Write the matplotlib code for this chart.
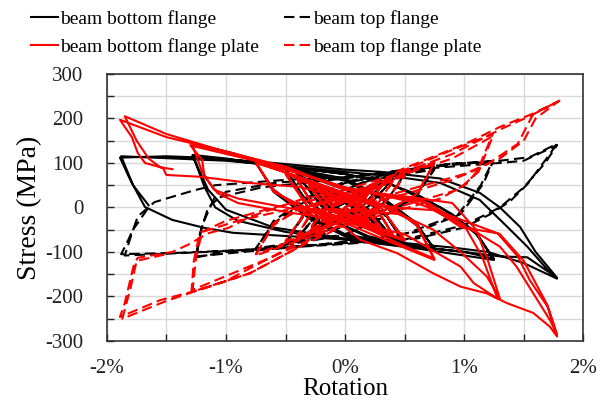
import matplotlib
matplotlib.use("Agg")
import matplotlib.pyplot as plt
from matplotlib.ticker import MultipleLocator, FuncFormatter

# rotation (%) , stress (MPa) points, in the order traced

# beam bottom flange (black solid)
bs_pts = [
    (0, 0), (0.2, -40), (0.1, -5), (-0.2, 40), (-0.1, 5), (0.2, -42), (0.1, -5), (-0.2, 42), (-0.1, 3),
    (0.3, -55), (0.15, -5), (-0.3, 58), (-0.15, 5), (0.3, -58), (0.15, -3), (-0.3, 60), (-0.15, 2),
    (0.4, -68), (0.2, -5), (-0.4, 72), (-0.2, 5), (0.4, -70), (0.2, -5), (-0.4, 74), (-0.2, 3),
    (0.5, -80), (0.35, -20), (0.1, 30), (-0.2, 65), (-0.5, 85), (-0.35, 25), (-0.1, -30), (0.2, -65),
    (0.5, -82), (0.35, -20), (0.1, 30), (-0.5, 88), (-0.35, 20), (-0.1, -30),
    (0.2, -68), (0.75, -92), (0.6, -40), (0.3, 20), (0, 60), (-0.4, 80), (-0.75, 100), (-0.6, 40),
    (-0.3, -20), (0, -60), (0.4, -80), (0.75, -95), (0.6, -35), (0.3, 25), (0, 65), (-0.75, 102),
    (-0.6, 35), (-0.3, -25), (0, -65),
    (0.5, -85), (1.0, -100), (1.25, -115), (1.1, -60), (0.9, -15), (0.6, 30), (0.3, 60), (0, 75),
    (-0.6, 95), (-1.0, 110), (-1.28, 118), (-1.18, 46), (-1.09, 0), (-0.9, -30), (-0.5, -55), (0, -72),
    (0.6, -92), (1.25, -118), (1.1, -55), (0.8, 0), (0.4, 50), (0, 75), (-1.28, 116), (-1.15, 40),
    (-1.0, -5), (-0.6, -45), (0, -70),
    (0.6, -88), (1.0, -100), (1.3, -110), (1.53, -112), (1.78, -158), (1.6, -100), (1.47, -44),
    (1.3, 0), (1.13, 33), (0.8, 65), (0.3, 80), (0, 85), (-0.6, 100), (-1.2, 112), (-1.5, 115),
    (-1.89, 112), (-1.8, 60), (-1.68, 1), (-1.45, -28), (-1.18, -46), (-0.94, -57), (-0.38, -66),
    (0, -72), (0.3, -75), (0.9, -90), (1.2, -100), (1.5, -125), (1.78, -160), (1.7, -140),
    (1.53, -88), (1.36, -43), (1.13, 17), (0.8, 55), (0.4, 70), (0, 80), (-1.0, 105), (-1.88, 115),
    (-1.78, 50), (-1.65, 5),
]

# beam top flange (black dashed)
bd_pts = [
    (0, 0), (0.2, 35), (0.1, 0), (-0.2, -38), (-0.1, -3), (0.2, 38), (0.1, 2), (-0.2, -40), (-0.1, -2),
    (0.3, 50), (0.15, 3), (-0.3, -55), (-0.15, -3), (0.3, 52), (0.15, 0), (-0.3, -57), (-0.15, 0),
    (0.4, 62), (0.2, 5), (-0.4, -68), (-0.2, -5), (0.4, 65), (0.2, 3), (-0.4, -70), (-0.2, -3),
    (0.5, 72), (0.35, 15), (0.1, -30), (-0.2, -62), (-0.5, -80), (-0.35, -20), (-0.1, 30), (0.2, 60),
    (0.5, 75), (0.35, 15), (0.1, -30), (-0.5, -82), (-0.35, -15), (-0.1, 30),
    (0.2, 62), (0.75, 85), (0.6, 30), (0.3, -25), (0, -60), (-0.4, -78), (-0.75, -92), (-0.6, -35),
    (-0.3, 20), (0, 55), (0.4, 75), (0.75, 88), (0.6, 25), (0.3, -25), (0, -62), (-0.75, -95),
    (-0.6, -30), (-0.3, 25), (0, 58),
    (0.5, 80), (0.88, 98), (1.24, 102), (1.16, 53), (1.08, 24), (0.97, -15), (0.6, -55), (0, -78),
    (-0.6, -92), (-1.0, -100), (-1.25, -112), (-1.22, -60), (-1.15, 0), (-1.0, 35), (-0.6, 55),
    (0, 68), (0.6, 88), (1.24, 104), (1.14, 50), (0.95, -15), (0.5, -60), (0, -78), (-1.25, -110),
    (-1.2, -40), (-1.1, 20), (-0.7, 45), (0, 65),
    (0.88, 98), (1.3, 105), (1.55, 113), (1.78, 143), (1.7, 113), (1.53, 52), (1.39, 15),
    (1.22, -15), (1.0, -45), (0.6, -70), (0, -82), (-0.8, -95), (-1.4, -102), (-1.88, -105),
    (-1.82, -73), (-1.77, -43), (-1.74, -20), (-1.6, 12), (-1.45, 24), (-1.26, 39), (-1.09, 50),
    (-0.5, 62), (0, 68), (0.8, 90), (1.3, 100), (1.5, 105), (1.78, 140), (1.68, 100), (1.5, 45),
    (1.3, 0), (1.0, -40), (0.5, -72), (0, -80), (-1.0, -98), (-1.85, -108), (-1.78, -50), (-1.65, 0),
]

# beam bottom flange plate (red solid)
rs_pts = [
    (0, 0), (0.2, -30), (0.1, 5), (-0.2, 32), (-0.1, -3), (0.2, -32), (0.1, 3), (-0.2, 34), (-0.1, -2),
    (0.3, -45), (0.15, 5), (-0.3, 48), (-0.15, -5), (0.3, -48), (0.15, 2), (-0.3, 50), (-0.15, -3),
    (0.4, -60), (0.25, 5), (-0.4, 62), (-0.25, -5), (0.4, -62), (0.25, 3), (-0.4, 64), (-0.25, -3),
    (0.5, -72), (0.3, 0), (-0.5, 75), (-0.3, -5), (0.5, -75), (0.3, 0), (-0.5, 78), (-0.3, -3),
    (0.13, -40), (0.44, -80), (0.75, -115), (0.6, -40), (0.4, 0), (0, 30), (-0.4, 70), (-0.75, 100),
    (-0.6, 40), (-0.4, 0), (0, -35), (0.4, -80), (0.75, -118), (0.6, -35), (0.3, 5), (-0.75, 102),
    (-0.6, 35), (-0.3, -5),
    (0, -5), (0.46, -15), (0.74, -50), (0.97, -100), (1.19, -155), (1.3, -205), (1.2, -120),
    (1.1, -50), (0.9, 10), (0.5, 25), (0, 40), (-0.49, 91), (-1.05, 129), (-1.3, 140), (-1.2, 107),
    (-1.18, 69), (-1.07, 32), (-0.9, 10), (-0.5, -10), (0, -30), (0.5, -60), (0.97, -133),
    (1.08, -170), (1.28, -205), (1.15, -110), (1.0, -40), (0.7, 10), (0.3, 30), (0, 45), (-0.6, 95),
    (-1.28, 138), (-1.2, 80), (-1.1, 40), (-0.9, 20), (-0.4, -5), (0, -45),
    (0.13, -73), (0.44, -103), (0.74, -148), (0.97, -178), (1.19, -193), (1.36, -215), (1.58, -237),
    (1.72, -268), (1.78, -290), (1.7, -223), (1.55, -163), (1.45, -110), (1.28, -58), (0.97, -44),
    (0.63, 17), (0.3, 30), (0, 40), (-0.38, 77), (-0.94, 122), (-1.5, 158), (-1.89, 197),
    (-1.79, 158), (-1.74, 122), (-1.68, 100), (-1.53, 89), (-1.5, 73), (-1.22, 69), (-0.8, 55),
    (-0.38, 46), (0, 20), (0.4, 0), (0.74, -6), (1.11, -57), (1.3, -88), (1.44, -133), (1.58, -193),
    (1.72, -253), (1.78, -285), (1.7, -220), (1.6, -170), (1.5, -120), (1.3, -60), (1.0, -30),
    (0.6, 10), (0, 45), (-0.5, 85), (-1.0, 125), (-1.5, 165), (-1.85, 205), (-1.75, 150),
    (-1.65, 110), (-1.55, 90), (-1.45, 86),
]

# beam top flange plate (red dashed)
rd_pts = [
    (0, 0), (0.2, 30), (0.1, -3), (-0.2, -32), (-0.1, 3), (0.2, 32), (0.1, -2), (-0.2, -34), (-0.1, 2),
    (0.3, 45), (0.15, -3), (-0.3, -48), (-0.15, 3), (0.3, 47), (0.15, -2), (-0.3, -50), (-0.15, 2),
    (0.4, 58), (0.25, -3), (-0.4, -62), (-0.25, 3), (0.4, 60), (0.25, -2), (-0.4, -65), (-0.25, 2),
    (0.5, 70), (0.3, 0), (-0.5, -75), (-0.3, 3), (0.5, 72), (0.3, 0), (-0.5, -78), (-0.3, 2),
    (0.18, 32), (0.46, 70), (0.75, 100), (0.6, 30), (0.4, 0), (0, -30), (-0.4, -70), (-0.75, -105),
    (-0.6, -40), (-0.4, -5), (0, 30), (0.46, 75), (0.75, 102), (0.6, 25), (0.3, -10), (-0.75, -108),
    (-0.6, -35), (-0.3, 5),
    (0, 20), (0.46, 80), (0.88, 127), (1.24, 165), (1.11, 82), (1.02, 53), (0.8, 20), (0.4, -10),
    (0, -40), (-0.38, -88), (-0.8, -148), (-1.29, -190), (-1.27, -120), (-1.22, -57), (-1.0, -30),
    (-0.6, 0), (0, 30), (0.5, 75), (0.9, 110), (1.24, 160), (1.12, 80), (0.95, 40), (0.5, 5),
    (0, -35), (-0.6, -110), (-1.28, -185), (-1.25, -110), (-1.2, -55), (-0.9, -30), (-0.4, 0),
    (0.18, 32), (0.46, 84), (0.74, 114), (1.02, 144), (1.3, 181), (1.58, 211), (1.78, 237),
    (1.58, 210), (1.45, 143), (1.16, 91), (0.88, 60), (0.5, 30), (0.2, 10), (0, -10), (-0.38, -88),
    (-0.8, -148), (-1.22, -185), (-1.55, -208), (-1.89, -246), (-1.85, -215), (-1.81, -170),
    (-1.77, -125), (-1.74, -113), (-1.45, -100), (-1.32, -84), (-1.15, -58), (-0.98, -46),
    (-0.8, -21), (-0.38, 17), (0, 40), (0.5, 80), (0.9, 120), (1.3, 175), (1.55, 205), (1.8, 240),
    (1.6, 200), (1.5, 150), (1.3, 110), (1.0, 75), (0.6, 45), (0, 0), (-0.5, -95), (-1.0, -165),
    (-1.5, -210), (-1.87, -250), (-1.8, -180), (-1.75, -120), (-1.5, -105),
]

x_ticks = [-2, -1, 0, 1, 2]
y_ticks = [-300, -200, -100, 0, 100, 200, 300]

plt.rcParams["font.family"] = ["Liberation Serif", "DejaVu Serif"]
plt.rcParams["axes.unicode_minus"] = False

fig = plt.figure(figsize=(5.97, 4.04), dpi=100)
ax = fig.add_axes([0.179, 0.156, 0.798, 0.661])

series = [
    (bs_pts, "black", "-", "beam bottom flange"),
    (bd_pts, "black", "--", "beam top flange"),
    (rs_pts, "red", "-", "beam bottom flange plate"),
    (rd_pts, "red", "--", "beam top flange plate"),
]
lines = {}
for pts, col, ls, lab in series:
    xs = [p[0] for p in pts]
    ys = [p[1] for p in pts]
    ln, = ax.plot(xs, ys, color=col, lw=1.5, ls=ls, label=lab)
    if ls == "--":
        ln.set_dashes((5, 2.5))
    lines[lab] = ln

ax.set_xlim(-2, 2)
ax.set_ylim(-300, 300)
ax.set_xticks(x_ticks)
ax.set_yticks(y_ticks)
ax.xaxis.set_minor_locator(MultipleLocator(0.5))
ax.yaxis.set_minor_locator(MultipleLocator(50))
ax.xaxis.set_major_formatter(FuncFormatter(lambda v, p: f"{v:.0f}%"))
ax.grid(True, which="both", color="#d9d9d9", lw=1.0)
ax.set_axisbelow(True)
ax.tick_params(which="both", direction="in", length=5, width=1, labelsize=15, colors="#222222")
ax.tick_params(axis="x", pad=13)
ax.tick_params(axis="y", pad=17)
for s in ax.spines.values():
    s.set_color("#333333")
    s.set_linewidth(1.2)

ax.set_xlabel("Rotation", fontsize=18, labelpad=0)
ax.set_ylabel("Stress (MPa)", fontsize=20, labelpad=2)

# column-wise fill: black pair on first row, red pair on second
order = ["beam bottom flange", "beam bottom flange plate", "beam top flange", "beam top flange plate"]
fig.legend(handles=[lines[k] for k in order], loc="upper left", bbox_to_anchor=(0.032, 1.005), ncol=2,
           frameon=False, fontsize=14, handlelength=1.4, handletextpad=0.1,
           columnspacing=1.27, labelspacing=0.55, borderaxespad=0.2)

fig.savefig("out.png", dpi=100)
